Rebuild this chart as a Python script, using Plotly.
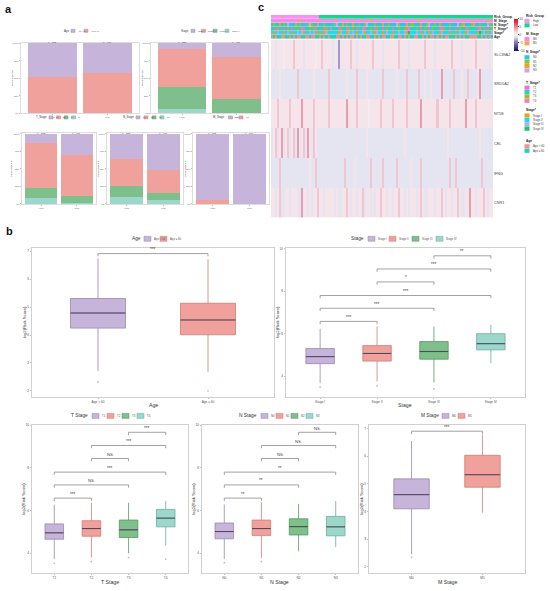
import plotly.graph_objects as go

W, H = 550, 591
def fx(p): return p / W
def fy(p): return 1 - p / H

FONT = "Liberation Sans, Arial, sans-serif"

FILLS = ["#C6B4DA", "#F0A19B", "#7FBF8B", "#9BD8CB"]
EDGES = ["#9A86B3", "#CF7C76", "#55995F", "#66ADA0"]
MEDC = "#4E4458"

# ---------------- data: panel a (share of each category, High / Low risk) ----------------
a_groups = ["High", "Low"]
a_group_n = ["n = 203", "n = 706"]

a_age_cats = ["Age > 60", "Age \u2264 60"]
a_age_high = [0.48, 0.52]
a_age_low = [0.42, 0.58]

a_stage_cats = ["Stage I", "Stage II", "Stage III", "Stage IV"]
a_stage_high = [0.08, 0.54, 0.32, 0.06]
a_stage_low = [0.20, 0.60, 0.19, 0.01]

a_t_cats = ["T1", "T2", "T3", "T4"]
a_t_high = [0.135, 0.635, 0.14, 0.09]
a_t_low = [0.30, 0.59, 0.09, 0.02]

a_n_cats = ["N0", "N1", "N2", "N3"]
a_n_high = [0.36, 0.38, 0.16, 0.10]
a_n_low = [0.514, 0.332, 0.104, 0.05]

a_m_cats = ["M0", "M1"]
a_m_high = [0.944, 0.056]
a_m_low = [0.995, 0.005]

# ---------------- data: panel c (heatmap, symbols per sample column) ----------------
genes = ["SLC39A2", "SRD5A2", "NT5E", "CEL", "IFNG", "CNR1"]
level_values = {"B": -3.5, "b": -1.8, "l": -0.8, "w": 0.2, "p": 0.9, "r": 2.6, "R": 4.2}
gene_rows = [
    "pplpppwppp" "prpppplppp" "ppwpprpppp" "lppBpppppr" "pplppppppp" "rpppplpppp"
    "ppprpppplp" "pppppprppp" "plpppppppr" "pppplppppp" "prpppppplp",
    "llllplllll" "lllrllllll" "lpllllllrl" "lllllllpll" "llrllllpll" "lllllrllll"
    "llpllllrll" "lllrllpllp" "llllRlllll" "rlllpllrll" "llpRllllll",
    "ppprpppppr" "pppppRpppp" "prpppppprp" "pppppppRpp" "pprpppppwp" "pppprppppp"
    "rpppppprpp" "ppppRppppp" "pprppppprp" "ppppppRppp" "prpppppppp",
    "lprlpRlprl" "prlRlprlRp" "lrplllllll" "llllllllll" "lllllllpll" "llllllllll"
    "llllllplll" "llllllllll" "lllllllpll" "llllllllll" "lllpllllll",
    "llllrlllll" "lllllllllp" "llrlllllll" "llllllrlll" "lplllllllr" "lllllrllll"
    "llrllllllp" "llllrlllll" "llllllllrl" "lrllllllll" "llllrlllll",
    "pplprllppl" "pppllRpplp" "lpprpplppp" "plpllpprpl" "pplpprlppl" "plpprpplpp"
    "lpprpplplp" "pplprpllpp" "plpprplppl" "pprpllppRp" "plppprplpp",
]

ann_names = ["Risk_Group", "M_Stage", "N_Stage*", "T_Stage*", "Stage*", "Age"]
risk_row = "H" * 24 + "L" * 86
m_row = ("0000000000" "0000100000" "0000000000" "0000000000" "0000000001" "0000000000"
         "0000000000" "0001000000" "0000000000" "0000000000" "0000000100")
n_row = ("0100201030" "0020100013" "1002001000" "0130020100" "2001001300" "0100020010"
         "0031000201" "1000200130" "0102000010" "0030120001" "2001000310")
t_row = ("2213221232" "1223241223" "2312221324" "2221322132" "3212241223" "2132212322"
         "1223223142" "2232123212" "3221432212" "2123221322" "2214232123")
stage_row = ("2123221232" "1223231223" "2312121322" "2221322132" "3212231223" "2132212322"
             "1223223142" "2232123212" "3221322212" "2123221322" "2214232123")
age_row = ("1212211221" "2121122112" "1122121212" "2211212121" "1212122112" "2121211221"
           "1221121212" "2112212121" "1212121122" "2121212211" "1122121212")

hm_risk_cats = ["High", "Low"];             hm_risk_cols = ["#F693EE", "#17D48F"]
hm_m_cats = ["M0", "M1"];                   hm_m_cols = ["#F28AE6", "#F8A552"]
hm_n_cats = ["N0", "N1", "N2", "N3"];       hm_n_cols = ["#2CC7E0", "#8BC53F", "#F2A126", "#C9A9EE"]
hm_t_cats = ["T1", "T2", "T3", "T4"];       hm_t_cols = ["#F36FD6", "#1DD5C3", "#A6B82A", "#F27EB3"]
hm_s_cats = ["Stage I", "Stage II", "Stage III", "Stage IV"]
hm_s_cols = ["#D9A923", "#2ED3F0", "#9DB3F2", "#24C25E"]
hm_age_cats = ["Age > 60", "Age \u2264 60"]; hm_age_cols = ["#F68D8D", "#1AD8B2"]

# ---------------- data: panel b (box statistics of log2(Risk Score)) ----------------
age_cats = ["Age > 60", "Age \u2264 60"]
age_q1 = [4.25, 4.01]; age_med = [4.79, 4.54]; age_q3 = [5.31, 5.14]
age_lo = [2.71, 2.68]; age_hi = [6.75, 6.72]; age_out = [[2.32], [2.0]]

stage_cats = ["Stage I", "Stage II", "Stage III", "Stage IV"]
stage_q1 = [4.59, 4.71, 4.80, 5.24]; stage_med = [4.92, 5.07, 5.16, 5.53]
stage_q3 = [5.30, 5.44, 5.63, 6.00]; stage_lo = [3.67, 3.75, 3.70, 4.62]
stage_hi = [6.23, 6.34, 6.34, 6.42]; stage_out = [[3.5], [3.55], [3.4], []]

t_cats = ["T1", "T2", "T3", "T4"]
t_q1 = [4.65, 4.79, 4.73, 5.23]; t_med = [4.95, 5.15, 5.09, 5.64]
t_q3 = [5.37, 5.52, 5.55, 6.05]; t_lo = [3.72, 3.80, 3.99, 4.36]
t_hi = [6.27, 6.36, 6.36, 6.44]; t_out = [[3.52], [3.6], [3.79], [3.72]]

n_cats = ["N0", "N1", "N2", "N3"]
n_q1 = [4.67, 4.82, 4.85, 4.81]; n_med = [5.01, 5.15, 5.24, 5.23]
n_q3 = [5.41, 5.55, 5.61, 5.72]; n_lo = [3.72, 3.77, 4.08, 4.28]
n_hi = [6.28, 6.39, 6.31, 6.44]; n_out = [[3.55], [3.6], [], []]

m_cats = ["M0", "M1"]
m_q1 = [4.10, 4.88]; m_med = [4.61, 5.33]; m_q3 = [5.18, 6.03]
m_lo = [2.46, 3.96]; m_hi = [6.55, 6.78]; m_out = [[2.35], []]

age_brackets = [(1, 2, "***")]; age_levels = [6.92]
stage_brackets = [(3, 4, "**"), (2, 4, "***"), (2, 3, "*"), (1, 4, "***"), (1, 3, "***"), (1, 2, "***")]
t_brackets = [(3, 4, "***"), (2, 4, "***"), (2, 3, "NS."), (1, 4, "***"), (1, 3, "NS."), (1, 2, "***")]
n_brackets = [(3, 4, "NS."), (2, 4, "NS."), (2, 3, "NS."), (1, 4, "**"), (1, 3, "**"), (1, 2, "**")]
m_brackets = [(1, 2, "***")]; m_levels = [6.90]
multi_levels = [9.67, 9.05, 8.44, 7.80, 7.20, 6.58]

# =====================================================================
fig = go.Figure()
lay = dict(width=W, height=H, margin=dict(l=0, r=0, t=0, b=0),
           paper_bgcolor="white", plot_bgcolor="white", showlegend=False,
           barmode="stack", font=dict(family=FONT, color="#333333"))
ann, shapes = [], []

def ax_key(i, k): return f"{k}axis{'' if i == 1 else i}"
def ax_ref(i, k): return f"{k}{'' if i == 1 else i}"

def text(x, y, s, size, xanchor="center", yanchor="middle", angle=0, color="#333333"):
    ann.append(dict(x=fx(x), y=fy(y), xref="paper", yref="paper", text=s, showarrow=False,
                    xanchor=xanchor, yanchor=yanchor, textangle=angle,
                    font=dict(size=size, color=color, family=FONT)))

def h_legend(title, labels, fills, edges, title_right, lefts, y, sw, sh, tsize, lsize):
    text(title_right, y, title, tsize, xanchor="right")
    for lab, fc, ec, l in zip(labels, fills, edges, lefts):
        shapes.append(dict(type="rect", xref="paper", yref="paper", x0=fx(l), x1=fx(l + sw),
                           y0=fy(y + sh / 2), y1=fy(y - sh / 2), fillcolor=fc,
                           line=dict(color=ec, width=0.5)))
        text(l + sw + 0.8, y, lab, lsize, xanchor="left", color="#555555")

# ---------------- panel a ----------------
a_panels = [
    dict(i=1, title="Age", cats=a_age_cats, hi=a_age_high, lo=a_age_low, x=(21, 139), y=(42, 113),
         rng=(-0.57, 1.58), ly=30, ltr=70.5, lefts=[71, 84], ytx=12),
    dict(i=2, title="Stage", cats=a_stage_cats, hi=a_stage_high, lo=a_stage_low, x=(151, 268), y=(42, 113),
         rng=(-0.57, 1.58), ly=30, ltr=190.5, lefts=[191, 201.5, 213, 225], ytx=142),
    dict(i=3, title="T_Stage", cats=a_t_cats, hi=a_t_high, lo=a_t_low, x=(22, 96), y=(133, 204),
         rng=(-0.53, 1.53), ly=117, ltr=48.5, lefts=[49, 56.5, 64, 71.5], ytx=12),
    dict(i=4, title="N_Stage", cats=a_n_cats, hi=a_n_high, lo=a_n_low, x=(107, 183), y=(133, 204),
         rng=(-0.53, 1.53), ly=117, ltr=135.5, lefts=[136, 144, 152, 160], ytx=99),
    dict(i=5, title="M_Stage", cats=a_m_cats, hi=a_m_high, lo=a_m_low, x=(193, 269), y=(133, 204),
         rng=(-0.53, 1.53), ly=117, ltr=227, lefts=[228.5, 239], ytx=186),
]
for p in a_panels:
    i = p["i"]
    for k in reversed(range(len(p["cats"]))):
        fig.add_trace(go.Bar(x=[0, 1], y=[p["hi"][k], p["lo"][k]], width=0.89,
                             marker=dict(color=FILLS[k], line=dict(width=0)),
                             xaxis=ax_ref(i, "x"), yaxis=ax_ref(i, "y"), hoverinfo="skip"))
    lay[ax_key(i, "x")] = dict(domain=[fx(p["x"][0]), fx(p["x"][1])], range=list(p["rng"]),
                               anchor=ax_ref(i, "y"), tickvals=[0, 1], ticktext=a_groups,
                               tickfont=dict(size=2.4, color="#666"), showline=True, mirror=True,
                               linecolor="#DDDDDD", linewidth=0.6, ticks="outside", ticklen=1,
                               tickcolor="#BBBBBB", showgrid=False, zeroline=False)
    lay[ax_key(i, "y")] = dict(domain=[fy(p["y"][1]), fy(p["y"][0])], range=[0, 1.005],
                               anchor=ax_ref(i, "x"), tickvals=[0, 0.25, 0.5, 0.75, 1],
                               ticktext=["0%", "25%", "50%", "75%", "100%"],
                               tickfont=dict(size=2.4, color="#666"), showline=True, mirror=True,
                               linecolor="#DDDDDD", linewidth=0.6, ticks="outside", ticklen=1,
                               tickcolor="#BBBBBB", showgrid=False, zeroline=False)
    for gx, ns in zip([0, 1], a_group_n):
        ann.append(dict(x=gx, y=fy(p["y"][0] - 3.5), xref=ax_ref(i, "x"), yref="paper", text=ns,
                        showarrow=False, font=dict(size=2.4, color="#444")))
    text(p["ytx"], (p["y"][0] + p["y"][1]) / 2, "Percent weight", 2.4, angle=-90)
    h_legend(p["title"], p["cats"], FILLS, EDGES, p["ltr"], p["lefts"], p["ly"], 4, 3, 2.8, 2.0)

# ---------------- panel c: heatmap ----------------
N = min(len(s) for s in gene_rows + [risk_row, m_row, n_row, t_row, stage_row, age_row])
gz = [[level_values[c] for c in s[:N]] for s in gene_rows]
ann_maps = [
    (risk_row, {"H": 0, "L": 1}), (m_row, {"0": 2, "1": 3}),
    (n_row, {"0": 4, "1": 5, "2": 6, "3": 7}), (t_row, {"1": 8, "2": 9, "3": 10, "4": 11}),
    (stage_row, {"1": 12, "2": 13, "3": 14, "4": 15}), (age_row, {"1": 16, "2": 17}),
]
az = [[mp[c] for c in s[:N]] for s, mp in ann_maps]
all_cols = hm_risk_cols + hm_m_cols + hm_n_cols + hm_t_cols + hm_s_cols + hm_age_cols
disc = []
for k, c in enumerate(all_cols):
    disc += [[k / len(all_cols), c], [(k + 1) / len(all_cols), c]]

hm_scale = [[0, "#0B0B6E"], [0.3, "#8A8AC8"], [0.41, "#D4D5EC"], [0.46, "#E4E5F1"],
            [0.5, "#F2EFF3"], [0.545, "#F5E4EA"], [0.63, "#F1C6D1"], [0.71, "#EA9DAE"],
            [0.85, "#E0505E"], [1, "#D0101C"]]

fig.add_trace(go.Heatmap(z=gz, x=list(range(N)), y=genes, zmin=-10, zmax=10, colorscale=hm_scale,
                         xaxis="x6", yaxis="y6", hoverinfo="skip",
                         colorbar=dict(x=fx(514), xanchor="left", y=fy(34), yanchor="middle",
                                       len=32, lenmode="pixels", thickness=3.5,
                                       thicknessmode="pixels", tickvals=[-10, -5, 0, 5, 10],
                                       tickfont=dict(size=3.2, color="#444"), ticks="outside",
                                       ticklen=1, outlinewidth=0, xpad=0, ypad=0)))
fig.add_trace(go.Heatmap(z=az, x=list(range(N)), y=ann_names, zmin=-0.5, zmax=len(all_cols) - 0.5,
                         colorscale=disc, showscale=False, xaxis="x7", yaxis="y7", hoverinfo="skip",
                         ygap=0.3))
for i in (6, 7):
    lay[ax_key(i, "x")] = dict(domain=[fx(271), fx(493)], range=[-0.5, N - 0.5], anchor=ax_ref(i, "y"),
                               visible=False)
lay["yaxis6"] = dict(domain=[fy(218), fy(38.6)], anchor="x6", autorange="reversed", side="right",
                     tickfont=dict(size=3.8, color="#444"), ticks="", showline=False, showgrid=False)
lay["yaxis7"] = dict(domain=[fy(38.3), fy(14)], anchor="x7", autorange="reversed", side="right",
                     tickvals=ann_names, ticktext=[f"<b>{a}</b>" for a in ann_names],
                     tickfont=dict(size=3.2, color="#222"), ticks="", showline=False, showgrid=False)

hm_legend = [
    ("Risk_Group", hm_risk_cats, hm_risk_cols, 15, 18),
    ("M_Stage", hm_m_cats, hm_m_cols, 33, 36),
    ("N_Stage*", hm_n_cats, hm_n_cols, 51.5, 54.5),
    ("T_Stage*", hm_t_cats, hm_t_cols, 82, 85),
    ("Stage*", hm_s_cats, hm_s_cols, 110, 113),
    ("Age", hm_age_cats, hm_age_cols, 141, 144),
]
for title, labs, cols, ty, top in hm_legend:
    text(523.5, ty, f"<b>{title}</b>", 3.2, xanchor="left", color="#222")
    for k, (lab, c) in enumerate(zip(labs, cols)):
        y0 = top + k * 4.4
        shapes.append(dict(type="rect", xref="paper", yref="paper", x0=fx(524.5), x1=fx(529.5),
                           y0=fy(y0 + 4.2), y1=fy(y0), fillcolor=c, line=dict(width=0)))
        text(531, y0 + 2.1, lab, 2.8, xanchor="left", color="#444")

# ---------------- panel b: box plots ----------------
b_panels = [
    dict(i=8, title="Age", cats=age_cats, q1=age_q1, med=age_med, q3=age_q3, lo=age_lo, hi=age_hi,
         out=age_out, x=(32, 274), y=(248, 398), yr=(1.78, 7.13), ytv=[2, 3, 4, 5, 6, 7],
         br=age_brackets, lv=age_levels, ppu=28, ly=239, ltr=143, lefts=[144, 160],
         xt=(153, 406.5), ytx=24),
    dict(i=9, title="Stage", cats=stage_cats, q1=stage_q1, med=stage_med, q3=stage_q3, lo=stage_lo,
         hi=stage_hi, out=stage_out, x=(286, 525), y=(248, 398), yr=(3.02, 10.05), ytv=[4, 6, 8, 10],
         br=stage_brackets, lv=multi_levels, ppu=21.5, ly=239, ltr=366, lefts=[368, 389, 412, 436],
         xt=(405, 406.5), ytx=277),
    dict(i=10, title="T Stage", cats=t_cats, q1=t_q1, med=t_med, q3=t_q3, lo=t_lo, hi=t_hi, out=t_out,
         x=(32, 188), y=(426, 575), yr=(3.06, 10.02), ytv=[4, 6, 8, 10], br=t_brackets,
         lv=multi_levels, ppu=21.5, ly=417, ltr=90, lefts=[92, 107, 122, 137], xt=(110, 583.5), ytx=24),
    dict(i=11, title="N Stage", cats=n_cats, q1=n_q1, med=n_med, q3=n_q3, lo=n_lo, hi=n_hi, out=n_out,
         x=(202, 358), y=(426, 575), yr=(3.06, 10.02), ytv=[4, 6, 8, 10], br=n_brackets,
         lv=multi_levels, ppu=21.5, ly=417, ltr=259, lefts=[261, 276, 291, 306], xt=(280, 583.5), ytx=194),
    dict(i=12, title="M Stage", cats=m_cats, q1=m_q1, med=m_med, q3=m_q3, lo=m_lo, hi=m_hi, out=m_out,
         x=(369, 525), y=(426, 575), yr=(1.78, 7.13), ytv=[2, 3, 4, 5, 6, 7], br=m_brackets,
         lv=m_levels, ppu=27.9, ly=417, ltr=440.5, lefts=[442, 458], xt=(447, 583.5), ytx=362),
]
for p in b_panels:
    i = p["i"]; xr, yr_ = ax_ref(i, "x"), ax_ref(i, "y")
    n = len(p["cats"])
    for k in range(n):
        pos = k + 1
        fig.add_trace(go.Box(x=[pos], q1=[p["q1"][k]], median=[p["med"][k]], q3=[p["q3"][k]],
                             lowerfence=[p["lo"][k]], upperfence=[p["hi"][k]], width=0.5,
                             fillcolor=FILLS[k], line=dict(color=EDGES[k], width=0.8),
                             whiskerwidth=0, xaxis=xr, yaxis=yr_, hoverinfo="skip"))
        fig.add_trace(go.Scatter(x=[pos - 0.25, pos + 0.25], y=[p["med"][k]] * 2, mode="lines",
                                 line=dict(color=MEDC, width=1), xaxis=xr, yaxis=yr_, hoverinfo="skip"))
        if p["out"][k]:
            fig.add_trace(go.Scatter(x=[pos] * len(p["out"][k]), y=p["out"][k], mode="markers",
                                     marker=dict(size=1.8, color="#BBBBBB"), xaxis=xr, yaxis=yr_,
                                     hoverinfo="skip"))
    drop = 2.8 / p["ppu"]
    for (a, b, lab), lv in zip(p["br"], p["lv"]):
        fig.add_trace(go.Scatter(x=[a, a, b, b], y=[lv - drop, lv, lv, lv - drop], mode="lines",
                                 line=dict(color="#8A8A8A", width=0.8), xaxis=xr, yaxis=yr_,
                                 hoverinfo="skip"))
        ann.append(dict(x=(a + b) / 2, y=lv, xref=xr, yref=yr_, text=lab, showarrow=False,
                        yanchor="bottom", yshift=-0.5,
                        font=dict(size=4.2 if lab == "NS." else 4.5, color="#444", family=FONT)))
    lay[ax_key(i, "x")] = dict(domain=[fx(p["x"][0]), fx(p["x"][1])], range=[0.4, n + 0.6],
                               anchor=yr_, tickvals=list(range(1, n + 1)), ticktext=p["cats"],
                               tickfont=dict(size=3.2, color="#555"), showline=True, mirror=True,
                               linecolor="#D0D0D0", linewidth=0.8, ticks="outside", ticklen=1.5,
                               tickcolor="#C0C0C0", showgrid=False, zeroline=False)
    lay[ax_key(i, "y")] = dict(domain=[fy(p["y"][1]), fy(p["y"][0])], range=list(p["yr"]),
                               anchor=xr, tickvals=p["ytv"], tickfont=dict(size=3.2, color="#555"),
                               showline=True, mirror=True, linecolor="#D0D0D0", linewidth=0.8,
                               ticks="outside", ticklen=1.5, tickcolor="#C0C0C0",
                               showgrid=False, zeroline=False)
    text(p["xt"][0], p["xt"][1], p["title"], 5.2, color="#333")
    text(p["ytx"], (p["y"][0] + p["y"][1]) / 2, "log2(Risk Score)", 4.3, angle=-90)
    h_legend(p["title"], p["cats"], FILLS, EDGES, p["ltr"], p["lefts"], p["ly"], 7, 5, 4.8, 2.8)

# panel letters
text(8.5, 8.5, "<b>a</b>", 11, color="#111")
text(261, 6.5, "<b>c</b>", 11, color="#111")
text(9, 231.5, "<b>b</b>", 11, color="#111")

lay["annotations"] = ann
lay["shapes"] = shapes
fig.update_layout(**lay)
fig.write_html("out.html", config={"displayModeBar": False},
               post_script="document.body.style.margin='0';document.body.style.padding='0';"
                           "document.body.style.overflow='hidden';")
